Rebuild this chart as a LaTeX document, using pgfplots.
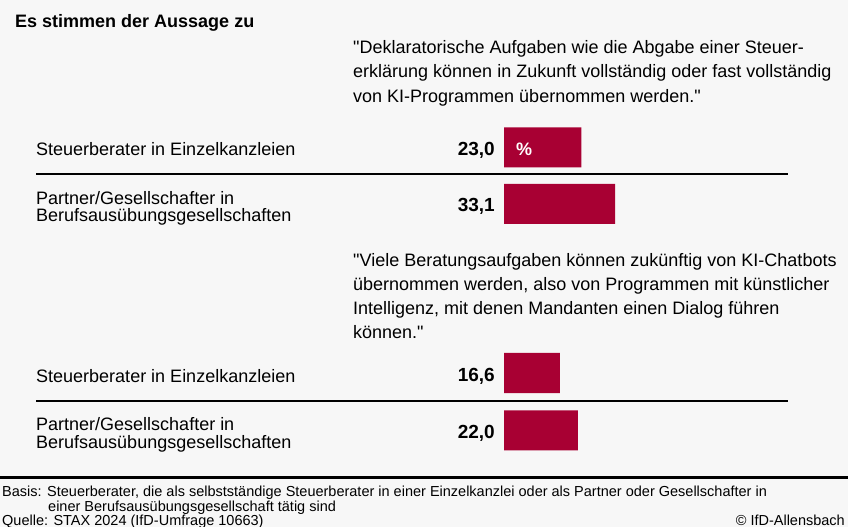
\documentclass[border=0pt]{standalone}
\usepackage{pgfplots}
\pgfplotsset{compat=1.18}
\usepackage{fontspec}
\setmainfont{Liberation Sans}[Ligatures=TeXOff]
\definecolor{barred}{HTML}{A80033}
\definecolor{bg}{HTML}{F7F7F7}
\newcommand{\fs}[1]{\fontsize{#1bp}{#1bp}\selectfont}
\newcommand{\q}{\char34\relax}
\begin{document}
\begin{tikzpicture}
\useasboundingbox (0,0) rectangle (848bp,-527bp);
\fill[bg] (0,0) rectangle (848bp,-527bp);
\begin{axis}[at={(0,0)}, anchor=north west, scale only axis,
  x=3.36bp, y=1bp, xmin=-150, xmax=102.381, ymin=-527, ymax=0,
  hide axis, clip=false]
\addplot[xbar, fill=barred, draw=none, bar width=40bp]
  coordinates {(23.0,-147.3) (33.1,-204) (16.6,-373) (22.0,-430.3)};
\end{axis}
\tikzset{t/.style={anchor=base west, inner sep=0pt, font=\fs{18}}}
\node[t, font=\bfseries\fs{18}] at (15bp,-27bp) {Es stimmen der Aussage zu};
% quote 1
\node[t] at (353bp,-53.5bp) {\q Deklaratorische Aufgaben wie die Abgabe einer Steuer-};
\node[t] at (353bp,-77.8bp) {erklärung können in Zukunft vollständig oder fast vollständig};
\node[t] at (353bp,-102bp) {von KI-Programmen übernommen werden.\q};
% quote 2
\node[t] at (353bp,-266bp) {\q Viele Beratungsaufgaben können zukünftig von KI-Chatbots};
\node[t] at (353bp,-290.3bp) {übernommen werden, also von Programmen mit künstlicher};
\node[t] at (353bp,-314.6bp) {Intelligenz, mit denen Mandanten einen Dialog führen};
\node[t] at (353bp,-338.9bp) {können.\q};
% labels
\node[t] at (36bp,-155.7bp) {Steuerberater in Einzelkanzleien};
\node[t] at (36bp,-204bp) {Partner/Gesellschafter in};
\node[t] at (36bp,-221.7bp) {Berufsausübungsgesellschaften};
\node[t] at (36bp,-382bp) {Steuerberater in Einzelkanzleien};
\node[t] at (36bp,-430bp) {Partner/Gesellschafter in};
\node[t] at (36bp,-448bp) {Berufsausübungsgesellschaften};
% values
\tikzset{v/.style={anchor=base east, inner sep=0pt, font=\bfseries\fs{19}}}
\node[v] at (495bp,-155.5bp) {23,0};
\node[v] at (495bp,-211.7bp) {33,1};
\node[v] at (495bp,-381.7bp) {16,6};
\node[v] at (495bp,-438bp) {22,0};
\node[anchor=base west, inner sep=0pt, font=\bfseries\fs{18}, text=white] at (516bp,-155.5bp) {\%};
% rules
\draw[line width=2bp] (36bp,-174.3bp) -- (788bp,-174.3bp);
\draw[line width=2bp] (36bp,-400.5bp) -- (788bp,-400.5bp);
\draw[line width=3bp] (0bp,-477bp) -- (848bp,-477bp);
% footer
\tikzset{f/.style={anchor=base west, inner sep=0pt, font=\fs{14.5}}}
\node[f] at (2bp,-496bp) {Basis:};
\node[f] at (47bp,-496bp) {Steuerberater, die als selbstständige Steuerberater in einer Einzelkanzlei oder als Partner oder Gesellschafter in};
\node[f] at (48bp,-511bp) {einer Berufsausübungsgesellschaft tätig sind};
\node[f] at (2bp,-525.5bp) {Quelle: STAX 2024 (IfD-Umfrage 10663)};
\node[anchor=base east, inner sep=0pt, font=\fs{14.5}] at (845bp,-525.5bp) {© IfD-Allensbach};
\end{tikzpicture}
\end{document}
